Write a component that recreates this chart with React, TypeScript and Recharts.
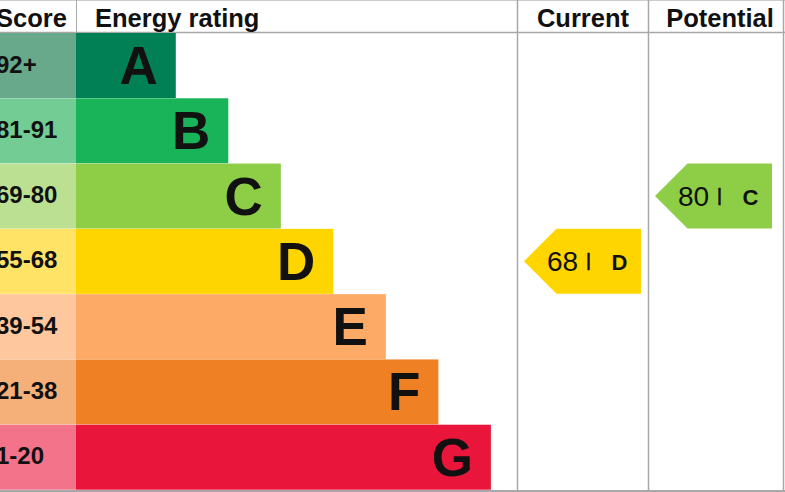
import React from "react";
import { BarChart, Bar, XAxis, YAxis } from "recharts";

const ratings = ["A", "B", "C", "D", "E", "F", "G"];
const scoreRanges = ["92+", "81-91", "69-80", "55-68", "39-54", "21-38", "1-20"];
const barLengths = [19, 29, 39, 49, 59, 69, 79];
const barColors = ["#008054", "#19b459", "#8dce46", "#ffd500", "#fcaa65", "#ef8023", "#e9153b"];
const scoreColors = ["#68a98c", "#73cc93", "#bbe092", "#ffe366", "#fec79d", "#f5b07a", "#f2738a"];

const currentScore = 68;
const currentRating = "D";
const potentialScore = 80;
const potentialRating = "C";

const W = 785;
const H = 492;
const FONT = '"Liberation Sans", Arial, Helvetica, sans-serif';
const LINE = "#a8a8a8";
const currentCol = { left: 517.5, right: 648.5 };
const potentialCol = { left: 648.5, right: 783.5 };

const rows = ratings.map((rating, i) => ({
  rating,
  range: scoreRanges[i],
  length: barLengths[i],
  current: rating === currentRating ? currentScore : null,
  potential: rating === potentialRating ? potentialScore : null,
}));

const RatingBar = (props: any) => {
  const { x, y, width, height, index } = props;
  const cy = y + height / 2;
  return (
    <g>
      {/* score cell fills everything left of the plot */}
      <rect x={0} y={y} width={x} height={height} fill={scoreColors[index]} />
      <text x={-4} y={cy + 7} fontSize={24} fontWeight="bold" fill="#111" fontFamily={FONT}>
        {rows[index].range}
      </text>
      <rect x={x} y={y} width={width} height={height} fill={barColors[index]} />
      <text
        x={x + width - 18}
        y={cy + 18.5}
        fontSize={53}
        fontWeight="bold"
        fill="#111"
        textAnchor="end"
        fontFamily={FONT}
      >
        {rows[index].rating}
      </text>
    </g>
  );
};

const makeArrow = (key: "current" | "potential", colLeft: number) => (props: any) => {
  const { y, height, index, payload } = props;
  if (!payload || payload[key] == null) return <g />;
  const tip = colLeft + 6.5;
  const end = tip + 117;
  const cy = y + height / 2;
  const pts = [
    [tip, cy],
    [tip + height / 2, y],
    [end, y],
    [end, y + height],
    [tip + height / 2, y + height],
  ]
    .map((p) => p.join(","))
    .join(" ");
  return (
    <g fontFamily={FONT} fill="#111">
      <polygon points={pts} fill={barColors[index]} />
      <text x={tip + 23} y={cy + 10} fontSize={28}>
        {payload[key]}
      </text>
      <text x={tip + 62} y={cy + 5} fontSize={19} stroke="#111" strokeWidth={0.7}>
        |
      </text>
      <text x={tip + 87.5} y={cy + 9} fontSize={22} fontWeight="bold">
        {payload.rating}
      </text>
    </g>
  );
};

const Frame = () => (
  <svg width={W} height={H} style={{ position: "absolute", left: 0, top: 0 }}>
    <line x1={0} y1={0.5} x2={W} y2={0.5} stroke="#cccccc" />
    <line x1={0} y1={32.5} x2={W} y2={32.5} stroke={LINE} strokeWidth={1.5} />
    <line x1={76.5} y1={0} x2={76.5} y2={32} stroke={LINE} />
    <line x1={currentCol.left} y1={0} x2={currentCol.left} y2={H} stroke={LINE} strokeWidth={1.5} />
    <line x1={currentCol.right} y1={0} x2={currentCol.right} y2={H} stroke={LINE} strokeWidth={1.5} />
    <line x1={potentialCol.right} y1={0} x2={potentialCol.right} y2={H} stroke={LINE} strokeWidth={1.5} />
    <line x1={0} y1={491} x2={W} y2={491} stroke={LINE} strokeWidth={2} />
    <g fontFamily={FONT} fontWeight="bold" fontSize={25.5} fill="#111">
      <text x={-4} y={27}>Score</text>
      <text x={95} y={27}>Energy rating</text>
      <text x={(currentCol.left + currentCol.right) / 2} y={27} textAnchor="middle">
        Current
      </text>
      <text x={720} y={27} textAnchor="middle">
        Potential
      </text>
    </g>
  </svg>
);

export default function App() {
  return (
    <div style={{ position: "absolute", left: 0, top: 0, width: W, height: H, background: "#fff" }}>
      <Frame />
      <div style={{ position: "absolute", left: 0, top: 0 }}>
        <BarChart
          width={W}
          height={H}
          data={rows}
          layout="vertical"
          margin={{ top: 33, right: 0, bottom: 2, left: 76 }}
          barCategoryGap={0}
          barGap={0}
        >
          <XAxis type="number" domain={[0, 135]} hide />
          <YAxis type="category" dataKey="rating" hide />
          <Bar dataKey="length" stackId="s" shape={RatingBar} isAnimationActive={false} />
          <Bar dataKey="current" stackId="s" shape={makeArrow("current", currentCol.left)} isAnimationActive={false} />
          <Bar dataKey="potential" stackId="s" shape={makeArrow("potential", potentialCol.left)} isAnimationActive={false} />
        </BarChart>
      </div>
    </div>
  );
}
